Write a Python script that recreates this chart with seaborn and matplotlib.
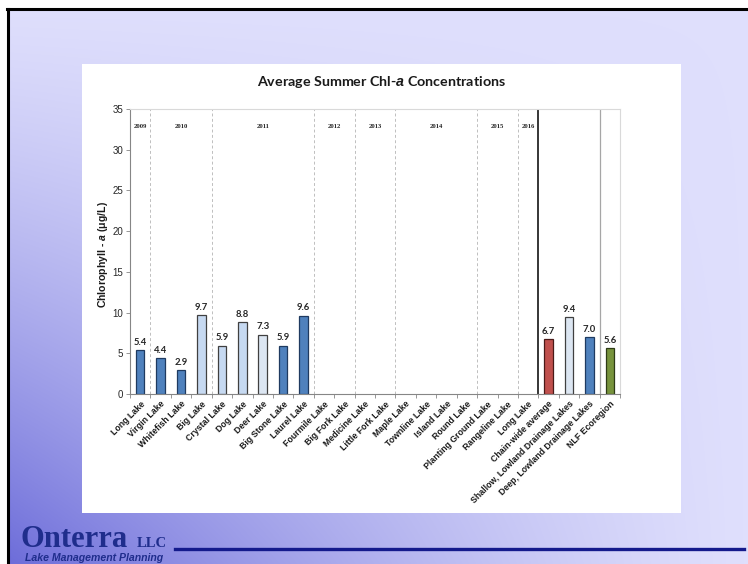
import numpy as np
import pandas as pd
import matplotlib
matplotlib.use("Agg")
import matplotlib.pyplot as plt
from matplotlib.lines import Line2D
from matplotlib.patches import Rectangle
import seaborn as sns

# ---- data ----
lakes = ["Long Lake", "Virgin Lake", "Whitefish Lake", "Big Lake", "Crystal Lake",
         "Dog Lake", "Deer Lake", "Big Stone Lake", "Laurel Lake", "Fourmile Lake",
         "Big Fork Lake", "Medicine Lake", "Little Fork Lake", "Maple Lake",
         "Townline Lake", "Island Lake", "Round Lake", "Planting Ground Lake",
         "Rangeline Lake", "Long Lake", "Chain-wide average",
         "Shallow, Lowland Drainage Lakes", "Deep, Lowland Drainage Lakes",
         "NLF Ecoregion"]
chl_values = [5.4, 4.4, 2.9, 9.7, 5.9, 8.8, 7.3, 5.9, 9.6, np.nan,
              np.nan, np.nan, np.nan, np.nan, np.nan, np.nan, np.nan, np.nan,
              np.nan, np.nan, 6.7, 9.4, 7.0, 5.6]
bar_kind = ["deep", "deep", "deep", "shallow", "shallow", "shallow", "pale", "deep",
            "deep", "none", "none", "none", "none", "none", "none", "none", "none",
            "none", "none", "none", "chain", "pale", "deep", "eco"]
years = ["2009", "2010", "2011", "2012", "2013", "2014", "2015", "2016"]
year_first = [0, 1, 4, 9, 11, 13, 17, 19]
year_last = [0, 3, 8, 10, 12, 16, 18, 19]

fills = {"deep": "#4f81bd", "shallow": "#c6d9f1", "pale": "#dce6f2",
         "chain": "#c0504d", "eco": "#77933c", "none": "#ffffff"}
edges = {"deep": "#1f3a60", "shallow": "#404040", "pale": "#404040",
         "chain": "#4a1a18", "eco": "#2e3b16", "none": "#ffffff"}

n = len(lakes)
df = pd.DataFrame({"pos": np.arange(n), "value": chl_values})
df = df.dropna()

W, H = 748, 564
fig = plt.figure(figsize=(W / 100, H / 100), dpi=100)

plt.rcParams["mathtext.fontset"] = "custom"
plt.rcParams["mathtext.it"] = "Liberation Sans:italic:bold"
plt.rcParams["mathtext.rm"] = "Liberation Sans:bold"

# ---- slide background ----
bg = fig.add_axes([0, 0, 1, 1], zorder=0)
u = np.linspace(0, 1, W)[None, :]
v = np.linspace(0, 1, H)[:, None]
d = np.clip((1 - u) * v, 0, 1) ** 1.3
light = np.array([0.875, 0.875, 0.99])
dark = np.array([0.42, 0.42, 0.85])
img = light[None, None, :] * (1 - d[..., None]) + dark[None, None, :] * d[..., None]
img[:9, :, :] = 1.0
img[:, :7, :] = 1.0
bg.imshow(img, aspect="auto", extent=[0, 1, 0, 1], origin="upper")
bg.set_xlim(0, 1)
bg.set_ylim(0, 1)
bg.axis("off")

# slide frame lines
fig.add_artist(Line2D([7 / W, 1], [1 - 9 / H, 1 - 9 / H], color="black", lw=2.2,
                      transform=fig.transFigure, zorder=1))
fig.add_artist(Line2D([8 / W, 8 / W], [0, 1 - 9 / H], color="black", lw=2.2,
                      transform=fig.transFigure, zorder=1))

# white chart area
fig.add_artist(Rectangle((82 / W, 1 - 513 / H), (681 - 82) / W, (513 - 64) / H,
                         facecolor="white", edgecolor="none",
                         transform=fig.transFigure, zorder=1))

# footer logo and rule
logo_blue = "#1f2d8c"
fig.text(21 / W, 1 - 547 / H, "Onterra", family="Liberation Serif", fontsize=22,
         fontweight="bold", color=logo_blue, ha="left", va="baseline", zorder=3)
fig.text(137 / W, 1 - 547 / H, "LLC", family="Liberation Serif", fontsize=10.5,
         fontweight="bold", color=logo_blue, ha="left", va="baseline", zorder=3)
fig.text(25 / W, 1 - 561 / H, "Lake Management Planning", family="Liberation Sans",
         fontsize=7.6, fontweight="bold", fontstyle="italic", color=logo_blue,
         ha="left", va="baseline", zorder=3)
fig.add_artist(Line2D([175 / W, 744 / W], [1 - 549 / H, 1 - 549 / H], color="#141a8c",
                      lw=2.4, transform=fig.transFigure, zorder=3))

# ---- chart ----
ax = fig.add_axes([130 / W, 1 - 394 / H, (620 - 130) / W, (394 - 109) / H], zorder=2)
sns.barplot(data=df, x="pos", y="value", hue="pos", order=list(range(n)),
            palette={i: fills[k] for i, k in enumerate(bar_kind)}, legend=False,
            width=0.42, linewidth=0.9, saturation=1, ax=ax)

for p in ax.patches:
    idx = int(round(p.get_x() + p.get_width() / 2))
    p.set_edgecolor(edges[bar_kind[idx]])
    p.set_linewidth(0.9)

for c in ax.containers:
    ax.bar_label(c, fmt="%.1f", padding=2.5, fontsize=6.8, fontweight="bold",
                 family="Lato", color="#262626")

ax.set_xlim(-0.5, n - 0.5)
ax.set_ylim(0, 35)
ax.set_yticks(np.arange(0, 36, 5))
ax.set_facecolor("none")

# year dividers and labels
for b in [0.5, 3.5, 8.5, 10.5, 12.5, 16.5, 18.5]:
    ax.axvline(b, color="#bfbfbf", lw=0.7, ls=(0, (3, 2.5)), zorder=0)
ax.axvline(19.5, color="black", lw=1.1, zorder=0)
ax.axvline(22.5, color="#a6a6a6", lw=0.9, zorder=0)
for yr, a, b in zip(years, year_first, year_last):
    ax.text((a + b) / 2, 32.8, yr, family="Liberation Serif", fontweight="bold",
            fontsize=4.8, color="#262626", ha="center", va="center")

ax.set_xticks(range(n))
ax.set_xticklabels(lakes, rotation=45, ha="right", rotation_mode="anchor",
                   fontsize=6.3, fontweight="bold", family="Liberation Sans",
                   color="#1a1a1a")
ax.tick_params(axis="x", which="major", length=0, pad=4)
ax.set_xticks(np.arange(-0.5, n, 1), minor=True)
ax.tick_params(axis="x", which="minor", length=3, width=0.6, color="#868686",
               direction="out")
ax.tick_params(axis="y", length=3, width=0.6, color="#868686", direction="out",
               labelsize=7, labelcolor="#262626", pad=2)
for lab in ax.get_yticklabels():
    lab.set_family("Liberation Sans")

for s in ["left", "bottom"]:
    ax.spines[s].set_color("#868686")
    ax.spines[s].set_linewidth(0.8)
for s in ["top", "right"]:
    ax.spines[s].set_color("#d9d9d9")
    ax.spines[s].set_linewidth(0.8)

ax.set_xlabel("")
ax.set_ylabel(r"Chlorophyll - $\mathit{a}$ (μg/L)", family="Liberation Sans",
              fontsize=7.6, fontweight="bold", color="#1a1a1a")
ax.yaxis.set_label_coords(-0.04, 0.49)

fig.text(381 / W, 1 - 82 / H, r"Average Summer Chl-$\mathit{a}$ Concentrations",
         family="Lato", fontsize=10.3, fontweight="bold", color="#1a1a1a",
         ha="center", va="center", zorder=3)

fig.savefig("out.png", dpi=100)
